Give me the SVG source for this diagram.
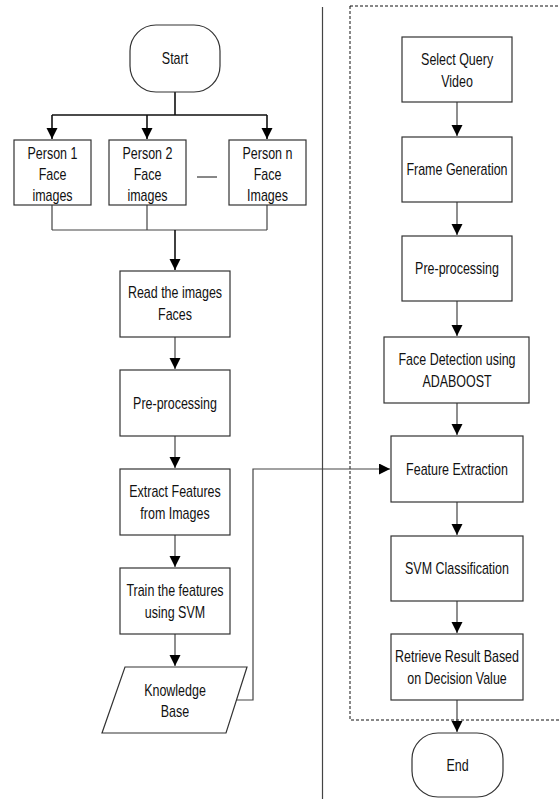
<svg xmlns="http://www.w3.org/2000/svg" width="560" height="799" viewBox="0 0 560 799">
<style>
.box{fill:#fff;stroke:#333;stroke-width:1.2}
.t{font-family:"Liberation Sans",Arial,sans-serif;font-size:16px;fill:#111;text-anchor:middle;transform-box:fill-box;transform-origin:center;transform:scaleX(0.78)}
.c{fill:none;stroke:#444;stroke-width:1.2}
.k{fill:none;stroke:#111;stroke-width:1.6}
</style>
<defs>
<marker id="ah" markerUnits="userSpaceOnUse" markerWidth="12" markerHeight="13" refX="11" refY="5.5" orient="auto">
<path d="M0,0 L11,5.5 L0,11 Z" fill="#000"/>
</marker>
</defs>
<line x1="322.5" y1="7" x2="322.5" y2="799" stroke="#444" stroke-width="1.2"/>
<rect x="350" y="6" width="215" height="714" fill="none" stroke="#111" stroke-width="1" stroke-dasharray="3,2"/>
<g id="connectors">
<path class="k" d="M175,92 V115 M52,115 H267"/>
<path class="k" d="M52,115 V139" marker-end="url(#ah)"/>
<path class="k" d="M147,115 V139" marker-end="url(#ah)"/>
<path class="k" d="M267,115 V139" marker-end="url(#ah)"/>
<path class="c" d="M52,205 V230 M147,205 V230 M267,205 V230 M52,230 H267"/>
<path class="k" d="M175,230 V270" marker-end="url(#ah)"/>
<path class="c" d="M175,337 V369" marker-end="url(#ah)"/>
<path class="c" d="M175,436 V468" marker-end="url(#ah)"/>
<path class="c" d="M175,535 V567" marker-end="url(#ah)"/>
<path class="c" d="M175,634 V666" marker-end="url(#ah)"/>
<path class="c" d="M237,700 H253 V469 H390" marker-end="url(#ah)"/>
<path class="c" d="M457,102 V136" marker-end="url(#ah)"/>
<path class="c" d="M457,202 V235" marker-end="url(#ah)"/>
<path class="c" d="M457,301 V336" marker-end="url(#ah)"/>
<path class="c" d="M457,403 V435" marker-end="url(#ah)"/>
<path class="c" d="M457,502 V535" marker-end="url(#ah)"/>
<path class="c" d="M457,601 V633" marker-end="url(#ah)"/>
<path class="c" d="M457,700 V732" marker-end="url(#ah)"/>
<line x1="197" y1="177" x2="217" y2="177" stroke="#111" stroke-width="1"/>
</g>
<g id="start"><rect class="box" x="130" y="25" width="90" height="67" rx="26" ry="26"/><text class="t" x="175" y="64">Start</text></g>
<g id="person1"><rect class="box" x="14" y="140" width="77" height="65"/><text class="t" x="52.5" y="159">Person 1</text><text class="t" x="52.5" y="180">Face</text><text class="t" x="52.5" y="201">images</text></g>
<g id="person2"><rect class="box" x="109" y="140" width="77" height="65"/><text class="t" x="147.5" y="159">Person 2</text><text class="t" x="147.5" y="180">Face</text><text class="t" x="147.5" y="201">images</text></g>
<g id="personn"><rect class="box" x="229" y="140" width="77" height="65"/><text class="t" x="267.5" y="159">Person n</text><text class="t" x="267.5" y="180">Face</text><text class="t" x="267.5" y="201">Images</text></g>
<g id="read"><rect class="box" x="120" y="271" width="110" height="66"/><text class="t" x="175" y="298">Read the images</text><text class="t" x="175" y="320">Faces</text></g>
<g id="pre1"><rect class="box" x="120" y="370" width="110" height="66"/><text class="t" x="175" y="409">Pre-processing</text></g>
<g id="extract"><rect class="box" x="120" y="469" width="110" height="66"/><text class="t" x="175" y="497">Extract Features</text><text class="t" x="175" y="519">from Images</text></g>
<g id="train"><rect class="box" x="120" y="568" width="110" height="66"/><text class="t" x="175" y="596">Train the features</text><text class="t" x="175" y="618">using SVM</text></g>
<g id="kb"><polygon class="box" points="125,667 247,667 226,733 102,733"/><text class="t" x="175" y="696">Knowledge</text><text class="t" x="175" y="717">Base</text></g>
<g id="query"><rect class="box" x="402" y="37" width="110" height="65"/><text class="t" x="457" y="65">Select Query</text><text class="t" x="457" y="87">Video</text></g>
<g id="frame"><rect class="box" x="402" y="137" width="110" height="65"/><text class="t" x="457" y="175">Frame Generation</text></g>
<g id="pre2"><rect class="box" x="402" y="236" width="110" height="65"/><text class="t" x="457" y="274">Pre-processing</text></g>
<g id="detect"><rect class="box" x="384" y="337" width="145" height="66"/><text class="t" x="457" y="365">Face Detection using</text><text class="t" x="457" y="387">ADABOOST</text></g>
<g id="feature"><rect class="box" x="391" y="436" width="132" height="66"/><text class="t" x="457" y="475">Feature Extraction</text></g>
<g id="svm"><rect class="box" x="391" y="536" width="132" height="65"/><text class="t" x="457" y="574">SVM Classification</text></g>
<g id="retrieve"><rect class="box" x="391" y="634" width="132" height="66"/><text class="t" x="457" y="662">Retrieve Result Based</text><text class="t" x="457" y="684">on Decision Value</text></g>
<g id="end"><rect class="box" x="412" y="733" width="91" height="64" rx="26" ry="26"/><text class="t" x="457.5" y="771">End</text></g>
</svg>
